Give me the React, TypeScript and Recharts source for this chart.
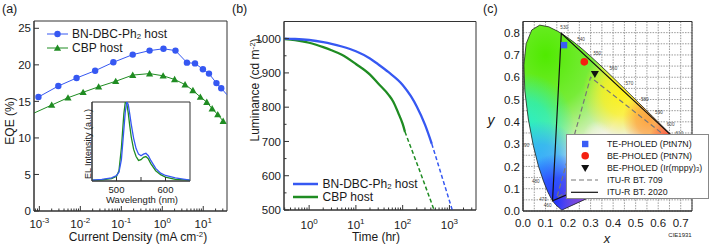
import React from "react";
import { ComposedChart, Line, Scatter, XAxis, YAxis, CartesianGrid, ReferenceArea } from "recharts";

const FONT = "'Liberation Sans', Arial, Helvetica, sans-serif";
const BLUE = "#3658f2";
const GREEN = "#1f8c22";
const AXIS = "#333";

// (a) EQE vs current density (mA cm-2)
const eqeBlueJ = [0.00095, 0.0029, 0.0081, 0.023, 0.064, 0.19, 0.49, 1.07, 2.1, 4.0, 6.3, 9.8, 13.8, 21, 27.5];
const eqeBlue = [15.6, 17.1, 18.2, 19.2, 20.35, 21.4, 21.95, 22.2, 21.95, 20.3, 20.2, 19.4, 18.8, 17.5, 16.8];
const eqeBlueEnd = { x: 38, y: 15.9 };
const eqeGreenJ = [0.002, 0.005, 0.0117, 0.028, 0.073, 0.19, 0.49, 1.05, 2.0, 3.6, 5.6, 8.5, 12.2, 16.5, 22.6, 30.6];
const eqeGreen = [14.5, 15.5, 16.25, 17.0, 17.75, 18.6, 18.8, 18.5, 18.0, 17.3, 16.5, 15.6, 14.9, 14.0, 13.2, 12.3];
const eqeGreenStart = { x: 0.00074, y: 13.4 };
const eqeTicks = [0, 5, 10, 15, 20, 25];

// (a) inset EL spectra
const elWl = [450, 470, 490, 500, 505, 510, 515, 518, 521, 524, 527, 530, 535, 540, 545, 550, 555, 560, 565, 570, 580, 590, 600, 620, 650];
const elGreen = [0.01, 0.015, 0.03, 0.06, 0.13, 0.42, 0.85, 1.0, 0.98, 0.86, 0.7, 0.56, 0.4, 0.31, 0.26, 0.27, 0.3, 0.31, 0.28, 0.22, 0.13, 0.08, 0.05, 0.02, 0.01];
const elBlue = [0.01, 0.02, 0.04, 0.07, 0.11, 0.27, 0.65, 0.88, 1.0, 0.97, 0.85, 0.72, 0.54, 0.41, 0.34, 0.32, 0.34, 0.35, 0.32, 0.26, 0.16, 0.1, 0.07, 0.04, 0.01];
const elTicks = [500, 550, 600];

// (b) luminance decay
const lumBlueT = [0.3, 0.5, 1, 2, 3, 5, 10, 20, 30, 50, 100, 150, 200, 300, 420];
const lumBlue = [1000, 999, 996, 990, 985, 977, 963, 942, 925, 902, 865, 832, 802, 749, 693];
const lumBlueFitT = [420, 690, 1150];
const lumBlueFit = [693, 598, 500];
const lumGreenT = [0.3, 0.5, 1, 2, 3, 5, 10, 20, 30, 50, 63, 80, 100, 112];
const lumGreen = [999, 996, 988, 975, 966, 953, 926, 895, 869, 836, 816, 784, 751, 728];
const lumGreenFitT = [112, 235, 470];
const lumGreenFit = [728, 612, 500];
const lumTicks = [500, 550, 600, 650, 700, 750, 800, 850, 900, 950, 1000, 1050];

// (c) CIE 1931 spectral locus
const locusNm = [380, 400, 420, 430, 440, 450, 455, 460, 465, 470, 475, 480, 485, 490, 495, 500, 505, 510, 515, 520, 525, 530, 535, 540, 545, 550, 555, 560, 565, 570, 575, 580, 585, 590, 595, 600, 605, 610, 620, 630, 640, 650, 660, 680, 700];
const locusX = [0.1741, 0.1733, 0.1714, 0.1689, 0.1644, 0.1566, 0.151, 0.144, 0.1355, 0.1241, 0.1096, 0.0913, 0.0687, 0.0454, 0.0235, 0.0082, 0.0039, 0.0139, 0.0389, 0.0743, 0.1142, 0.1547, 0.1929, 0.2296, 0.2658, 0.3016, 0.3373, 0.3731, 0.4087, 0.4441, 0.4788, 0.5125, 0.5448, 0.5752, 0.6029, 0.627, 0.6482, 0.6658, 0.6915, 0.7079, 0.719, 0.726, 0.73, 0.7334, 0.7347];
const locusY = [0.005, 0.0048, 0.0051, 0.0069, 0.0109, 0.0177, 0.0227, 0.0297, 0.0399, 0.0578, 0.0868, 0.1327, 0.2007, 0.295, 0.4127, 0.5384, 0.6548, 0.7502, 0.812, 0.8338, 0.8262, 0.8059, 0.7816, 0.7543, 0.7243, 0.6923, 0.6589, 0.6245, 0.5896, 0.5547, 0.5202, 0.4866, 0.4544, 0.4242, 0.3965, 0.3725, 0.3514, 0.334, 0.3083, 0.292, 0.2809, 0.274, 0.27, 0.2666, 0.2653];
const locusLabels = [460, 470, 480, 490, 500, 510, 520, 530, 540, 550, 560, 570, 580, 590, 600, 610];
const bt709X = [0.64, 0.3, 0.15, 0.64];
const bt709Y = [0.33, 0.6, 0.06, 0.33];
const bt2020X = [0.708, 0.17, 0.131, 0.708];
const bt2020Y = [0.292, 0.797, 0.046, 0.292];
const teX = [0.182];
const teY = [0.744];
const bePtX = [0.272];
const bePtY = [0.669];
const beIrX = [0.319];
const beIrY = [0.614];
const cieXTicks = [0, 0.05, 0.1, 0.15, 0.2, 0.25, 0.3, 0.35, 0.4, 0.45, 0.5, 0.55, 0.6, 0.65, 0.7, 0.75];
const cieYTicks = [0, 0.05, 0.1, 0.15, 0.2, 0.25, 0.3, 0.35, 0.4, 0.45, 0.5, 0.55, 0.6, 0.65, 0.7, 0.75, 0.8, 0.85];

const pts = (xs: number[], ys: number[]) => xs.map((x, i) => ({ x, y: ys[i] }));

function logTicks(lo: number, hi: number) {
  const out: number[] = [];
  for (let e = -4; e <= 4; e++) {
    for (let m = 1; m < 10; m++) {
      const v = Number((m * Math.pow(10, e)).toPrecision(2));
      if (v >= lo && v <= hi) out.push(v);
    }
  }
  return out;
}

const isDecade = (v: number) => Math.abs(Math.log10(v) - Math.round(Math.log10(v))) < 1e-6;
const pow10 = (v: number) => (
  <>
    <tspan>10</tspan>
    <tspan dy={-5} fontSize={8}>{Math.round(Math.log10(v))}</tspan>
  </>
);

type Side = "bottom" | "top" | "left" | "right";
type TickOpts = {
  side: Side;
  major: (v: number) => boolean;
  label?: (v: number) => React.ReactNode;
  len?: number;
  minorLen?: number;
  off?: number;
  size?: number;
};

// inward ticks, drawn by hand so the frame looks like the original
function makeTick(o: TickOpts) {
  const { side, major, label, len = 5, minorLen = 2.5, off = 16, size = 11.5 } = o;
  return (p: any) => {
    const v = Number(p.payload?.value);
    const big = major(v);
    const l = big ? len : minorLen;
    const x = Number(p.x);
    const y = Number(p.y);
    let c = [x, y, x, y];
    let tx = x;
    let ty = y;
    let anchor: "start" | "middle" | "end" = "middle";
    if (side === "bottom") {
      c = [x, y, x, y - l];
      ty = y + off;
    } else if (side === "top") {
      c = [x, y, x, y + l];
    } else if (side === "left") {
      c = [x, y, x + l, y];
      tx = x - off;
      ty = y + size * 0.36;
      anchor = "end";
    } else {
      c = [x, y, x - l, y];
    }
    return (
      <g>
        {l > 0 && <line x1={c[0]} y1={c[1]} x2={c[2]} y2={c[3]} stroke={AXIS} strokeWidth={1} />}
        {big && label && (
          <text x={tx} y={ty} textAnchor={anchor} fontSize={size} fontFamily={FONT} fill="#1a1a1a">
            {label(v)}
          </text>
        )}
      </g>
    );
  };
}

function Txt(props: { x: number; y: number; size?: number; rotate?: boolean; italic?: boolean; left?: boolean; children: React.ReactNode }) {
  const { x, y, size = 12, rotate, italic, left, children } = props;
  return (
    <div
      style={{
        position: "absolute",
        left: x,
        top: y,
        transform: `translate(${left ? "0" : "-50%"}, -50%)${rotate ? " rotate(-90deg)" : ""}`,
        fontFamily: FONT,
        fontSize: size,
        fontStyle: italic ? "italic" : "normal",
        lineHeight: 1,
        whiteSpace: "nowrap",
        color: "#1a1a1a",
      }}
    >
      {children}
    </div>
  );
}

const sub = (s: string) => <sub style={{ fontSize: "0.65em", verticalAlign: "-0.1em", lineHeight: 0 }}>{s}</sub>;
const sup = (s: string) => <sup style={{ fontSize: "0.65em", verticalAlign: "0.55em", lineHeight: 0 }}>{s}</sup>;

const frame = (x: [number, number], y: [number, number]) => (
  <ReferenceArea xAxisId="b" yAxisId="l" x1={x[0]} x2={x[1]} y1={y[0]} y2={y[1]} fill="none" fillOpacity={0} stroke={AXIS} strokeWidth={1} ifOverflow="visible" />
);

function PanelA() {
  const jTicks = logTicks(7.4e-4, 38);
  const dom: [number, number] = [7.4e-4, 38];
  const blueLine = [...pts(eqeBlueJ, eqeBlue), eqeBlueEnd];
  const greenLine = [eqeGreenStart, ...pts(eqeGreenJ, eqeGreen)];
  return (
    <ComposedChart width={240} height={245} margin={{ top: 21, right: 13, bottom: 0, left: 0 }}>
      <Line xAxisId="b" yAxisId="l" data={greenLine} dataKey="y" stroke={GREEN} strokeWidth={1} dot={false} activeDot={false} isAnimationActive={false} />
      <Line xAxisId="b" yAxisId="l" data={blueLine} dataKey="y" stroke={BLUE} strokeWidth={1} dot={false} activeDot={false} isAnimationActive={false} />
      <Scatter
        xAxisId="b"
        yAxisId="l"
        data={pts(eqeGreenJ, eqeGreen)}
        isAnimationActive={false}
        shape={(p: any) => (
          <polygon points={`${p.cx - 3.6},${p.cy + 2.8} ${p.cx + 3.6},${p.cy + 2.8} ${p.cx},${p.cy - 3.6}`} fill={GREEN} />
        )}
      />
      <Scatter
        xAxisId="b"
        yAxisId="l"
        data={pts(eqeBlueJ, eqeBlue)}
        isAnimationActive={false}
        shape={(p: any) => <circle cx={p.cx} cy={p.cy} r={3.2} fill={BLUE} />}
      />
      {frame(dom, [0, 26])}
      <XAxis xAxisId="b" dataKey="x" type="number" scale="log" domain={dom} allowDataOverflow ticks={jTicks} interval={0} tickSize={0} tickMargin={0} height={34} stroke={AXIS}
        tick={makeTick({ side: "bottom", major: isDecade, label: pow10, off: 17 })} />
      <XAxis xAxisId="t" orientation="top" type="number" scale="log" domain={dom} allowDataOverflow ticks={jTicks} interval={0} tickSize={0} tickMargin={0} height={0} stroke={AXIS}
        tick={makeTick({ side: "top", major: isDecade })} />
      <YAxis yAxisId="l" dataKey="y" type="number" domain={[0, 26]} allowDataOverflow ticks={eqeTicks} interval={0} tickSize={0} tickMargin={0} width={34} stroke={AXIS}
        tick={makeTick({ side: "left", major: () => true, label: (v) => String(v), off: 3 })} />
      <YAxis yAxisId="r" orientation="right" type="number" domain={[0, 26]} allowDataOverflow ticks={eqeTicks} interval={0} tickSize={0} tickMargin={0} width={0} stroke={AXIS}
        tick={makeTick({ side: "right", major: () => true })} />
    </ComposedChart>
  );
}

function Inset() {
  return (
    <ComposedChart width={125} height={115} margin={{ top: 7, right: 5, bottom: 0, left: 0 }}>
      <Line xAxisId="b" yAxisId="l" data={pts(elWl, elGreen)} dataKey="y" stroke={GREEN} strokeWidth={1.3} dot={false} activeDot={false} isAnimationActive={false} />
      <Line xAxisId="b" yAxisId="l" data={pts(elWl, elBlue)} dataKey="y" stroke={BLUE} strokeWidth={1.3} dot={false} activeDot={false} isAnimationActive={false} />
      {frame([450, 650], [0, 1])}
      <XAxis xAxisId="b" dataKey="x" type="number" domain={[450, 650]} allowDataOverflow ticks={elTicks} interval={0} tickSize={0} tickMargin={0} height={29} stroke={AXIS}
        tick={makeTick({ side: "bottom", major: (v) => v % 100 === 0, label: (v) => String(v), len: 4, minorLen: 4, off: 11.5, size: 9.5 })} />
      <XAxis xAxisId="t" orientation="top" type="number" domain={[450, 650]} allowDataOverflow ticks={elTicks} interval={0} tickSize={0} tickMargin={0} height={0} stroke={AXIS}
        tick={makeTick({ side: "top", major: () => true, len: 3 })} />
      <YAxis yAxisId="l" dataKey="y" type="number" domain={[0, 1]} allowDataOverflow ticks={[]} tickSize={0} width={22} stroke={AXIS} tick={false} />
      <YAxis yAxisId="r" orientation="right" type="number" domain={[0, 1]} allowDataOverflow ticks={[]} tickSize={0} width={0} stroke={AXIS} tick={false} />
    </ComposedChart>
  );
}

function PanelB() {
  const tTicks = logTicks(0.29, 3700);
  const dom: [number, number] = [0.29, 3700];
  const major100 = (v: number) => v % 100 === 0;
  return (
    <ComposedChart width={245} height={245} margin={{ top: 21.5, right: 9, bottom: 0, left: 0 }}>
      <Line xAxisId="b" yAxisId="l" data={pts(lumGreenFitT, lumGreenFit)} dataKey="y" stroke={GREEN} strokeWidth={1.5} strokeDasharray="4 2.5" dot={false} activeDot={false} isAnimationActive={false} />
      <Line xAxisId="b" yAxisId="l" data={pts(lumBlueFitT, lumBlueFit)} dataKey="y" stroke={BLUE} strokeWidth={1.5} strokeDasharray="4 2.5" dot={false} activeDot={false} isAnimationActive={false} />
      <Line xAxisId="b" yAxisId="l" data={pts(lumGreenT, lumGreen)} dataKey="y" type="monotone" stroke={GREEN} strokeWidth={2.3} dot={false} activeDot={false} isAnimationActive={false} />
      <Line xAxisId="b" yAxisId="l" data={pts(lumBlueT, lumBlue)} dataKey="y" type="monotone" stroke={BLUE} strokeWidth={2.3} dot={false} activeDot={false} isAnimationActive={false} />
      {frame(dom, [500, 1050])}
      <XAxis xAxisId="b" dataKey="x" type="number" scale="log" domain={dom} allowDataOverflow ticks={tTicks} interval={0} tickSize={0} tickMargin={0} height={35} stroke={AXIS}
        tick={makeTick({ side: "bottom", major: isDecade, label: pow10, off: 18.5 })} />
      <XAxis xAxisId="t" orientation="top" type="number" scale="log" domain={dom} allowDataOverflow ticks={tTicks} interval={0} tickSize={0} tickMargin={0} height={0} stroke={AXIS}
        tick={makeTick({ side: "top", major: isDecade })} />
      <YAxis yAxisId="l" dataKey="y" type="number" domain={[500, 1050]} allowDataOverflow ticks={lumTicks} interval={0} tickSize={0} tickMargin={0} width={44} stroke={AXIS}
        tick={makeTick({ side: "left", major: major100, label: (v) => (v <= 1000 ? String(v) : ""), off: 3 })} />
      <YAxis yAxisId="r" orientation="right" type="number" domain={[500, 1050]} allowDataOverflow ticks={lumTicks} interval={0} tickSize={0} tickMargin={0} width={0} stroke={AXIS}
        tick={makeTick({ side: "right", major: major100, minorLen: 0 })} />
    </ComposedChart>
  );
}

const lxMin = Math.min(...locusX);
const lxMax = Math.max(...locusX);
const lyMin = Math.min(...locusY);
const lyMax = Math.max(...locusY);

// colour wash for the horseshoe, as soft radial glows in chromaticity coordinates
const glows = [
  { id: "gGreen", x: 0.1, y: 0.7, r: 0.56, c: "#50ea00", a: 1 },
  { id: "gYellow", x: 0.44, y: 0.53, r: 0.24, c: "#fff012", a: 0.95 },
  { id: "gOrange", x: 0.56, y: 0.41, r: 0.16, c: "#ff9a30", a: 0.9 },
  { id: "gRed", x: 0.7, y: 0.29, r: 0.2, c: "#ff2a10", a: 1 },
  { id: "gCyan", x: 0.01, y: 0.37, r: 0.3, c: "#20eec8", a: 0.95 },
  { id: "gLBlue", x: 0.08, y: 0.19, r: 0.26, c: "#30a4ff", a: 0.95 },
  { id: "gBlue", x: 0.15, y: 0.04, r: 0.26, c: "#2234ff", a: 1 },
  { id: "gPurple", x: 0.32, y: 0.06, r: 0.24, c: "#8a3cd0", a: 0.9 },
  { id: "gWhite", x: 0.33, y: 0.33, r: 0.09, c: "#fff8f0", a: 0.5 },
];

function Horseshoe(props: any) {
  const p: { x: number; y: number }[] = props.points || [];
  if (!p.length) return <g />;
  const d = p.map((q, i) => `${i ? "L" : "M"}${q.x.toFixed(2)},${q.y.toFixed(2)}`).join("") + "Z";
  return (
    <g>
      <defs>
        {glows.map((g) => (
          <radialGradient key={g.id} id={g.id} cx={(g.x - lxMin) / (lxMax - lxMin)} cy={(lyMax - g.y) / (lyMax - lyMin)} r={g.r}>
            <stop offset="0" stopColor={g.c} stopOpacity={g.a} />
            <stop offset="0.5" stopColor={g.c} stopOpacity={g.a * 0.75} />
            <stop offset="1" stopColor={g.c} stopOpacity={0} />
          </radialGradient>
        ))}
      </defs>
      <path d={d} fill="#eef2e0" />
      {glows.map((g) => (
        <path key={g.id} d={d} fill={`url(#${g.id})`} />
      ))}
      <path d={d} fill="none" stroke="#222" strokeWidth={0.8} />
    </g>
  );
}

function WlLabel(p: any) {
  const nm = p.payload?.nm;
  if (!locusLabels.includes(nm)) return <g />;
  let dx = 2.5;
  let dy = -2;
  let anchor: "start" | "middle" | "end" = "start";
  if (nm <= 510) {
    dx = -4;
    dy = nm <= 470 ? 3 : 1.5;
    anchor = "end";
  } else if (nm === 520) {
    dx = 0;
    dy = -3;
    anchor = "middle";
  }
  return (
    <text x={p.cx + dx} y={p.cy + dy} fontSize={4.6} fontFamily={FONT} fill="#444" textAnchor={anchor}>
      {nm}
    </text>
  );
}

const none = () => <g />;
const isTenth = (v: number) => Math.abs(v * 10 - Math.round(v * 10)) < 1e-6;

function PanelC() {
  const locus = locusNm.map((nm, i) => ({ nm, x: locusX[i], y: locusY[i] }));
  return (
    <ComposedChart width={228} height={245} margin={{ top: 21.5, right: 21, bottom: 0, left: 0 }}>
      <CartesianGrid xAxisId="b" yAxisId="l" stroke="#9a9a9a" strokeDasharray="1.5 1.2" />
      <Scatter xAxisId="b" yAxisId="l" data={locus} line={Horseshoe} shape={WlLabel} isAnimationActive={false} />
      <Scatter xAxisId="b" yAxisId="l" data={pts(bt2020X, bt2020Y)} line={{ stroke: "#111", strokeWidth: 1.2 }} shape={none} isAnimationActive={false} />
      <Scatter xAxisId="b" yAxisId="l" data={pts(bt709X, bt709Y)} line={{ stroke: "#777", strokeWidth: 1.2, strokeDasharray: "5 3" }} shape={none} isAnimationActive={false} />
      <Scatter xAxisId="b" yAxisId="l" data={pts(teX, teY)} isAnimationActive={false}
        shape={(p: any) => <rect x={p.cx - 3.2} y={p.cy - 3.2} width={6.4} height={6.4} fill="#3a5cf5" />} />
      <Scatter xAxisId="b" yAxisId="l" data={pts(bePtX, bePtY)} isAnimationActive={false}
        shape={(p: any) => <circle cx={p.cx} cy={p.cy} r={3.8} fill="#f42010" />} />
      <Scatter xAxisId="b" yAxisId="l" data={pts(beIrX, beIrY)} isAnimationActive={false}
        shape={(p: any) => <polygon points={`${p.cx - 4},${p.cy - 3} ${p.cx + 4},${p.cy - 3} ${p.cx},${p.cy + 4}`} fill="#111" />} />
      {frame([0, 0.75], [0, 0.85])}
      <XAxis xAxisId="b" dataKey="x" type="number" domain={[0, 0.75]} allowDataOverflow ticks={cieXTicks} interval={0} tickSize={0} tickMargin={0} height={34} stroke={AXIS}
        tick={makeTick({ side: "bottom", major: isTenth, label: (v) => v.toFixed(1), len: 0, minorLen: 0, off: 15.5 })} />
      <XAxis xAxisId="t" orientation="top" type="number" domain={[0, 0.75]} allowDataOverflow ticks={[]} tickSize={0} height={0} stroke={AXIS} tick={false} />
      <YAxis yAxisId="l" dataKey="y" type="number" domain={[0, 0.85]} allowDataOverflow ticks={cieYTicks} interval={0} tickSize={0} tickMargin={0} width={38} stroke={AXIS}
        tick={makeTick({ side: "left", major: isTenth, label: (v) => v.toFixed(1), len: 0, minorLen: 0, off: 3 })} />
      <YAxis yAxisId="r" orientation="right" type="number" domain={[0, 0.85]} allowDataOverflow ticks={[]} tickSize={0} width={0} stroke={AXIS} tick={false} />
    </ComposedChart>
  );
}

function LegendC() {
  const rows = [10, 21.7, 34, 46, 58.3];
  const labels: React.ReactNode[] = [
    "TE-PHOLED (PtN7N)",
    "BE-PHOLED (PtN7N)",
    <>BE-PHOLED (Ir(mppy){sub("3")})</>,
    "ITU-R BT. 709",
    "ITU-R BT. 2020",
  ];
  return (
    <div style={{ position: "absolute", left: 566, top: 134, width: 143, height: 65, background: "#fff", border: "1px solid #888", boxSizing: "border-box" }}>
      <svg width={143} height={65} style={{ position: "absolute", left: -1, top: -1 }}>
        <rect x={16} y={rows[0] - 3.2} width={6.4} height={6.4} fill="#3a5cf5" />
        <circle cx={19.2} cy={rows[1]} r={3.8} fill="#f42010" />
        <polygon points={`${15.2},${rows[2] - 3} ${23.2},${rows[2] - 3} ${19.2},${rows[2] + 4}`} fill="#111" />
        <line x1={5} x2={32} y1={rows[3]} y2={rows[3]} stroke="#777" strokeWidth={1.2} strokeDasharray="5 3" />
        <line x1={5} x2={32} y1={rows[4]} y2={rows[4]} stroke="#111" strokeWidth={1.2} />
      </svg>
      {rows.map((r, i) => (
        <div key={i} style={{ position: "absolute", left: 40, top: r - 1, transform: "translateY(-50%)", fontFamily: FONT, fontSize: 8.8, lineHeight: 1, whiteSpace: "nowrap", color: "#1a1a1a" }}>
          {labels[i]}
        </div>
      ))}
    </div>
  );
}

function LegendLine({ x1, x2, y, color, w, marker }: { x1: number; x2: number; y: number; color: string; w: number; marker?: "circle" | "tri" }) {
  const cx = (x1 + x2) / 2;
  return (
    <svg width={x2 - x1 + 8} height={12} style={{ position: "absolute", left: x1 - 4, top: y - 6 }}>
      <line x1={4} x2={x2 - x1 + 4} y1={6} y2={6} stroke={color} strokeWidth={w} />
      {marker === "circle" && <circle cx={cx - x1 + 4} cy={6} r={3.2} fill={color} />}
      {marker === "tri" && <polygon points={`${cx - x1 + 0.4},${8.8} ${cx - x1 + 7.6},${8.8} ${cx - x1 + 4},${2.4}`} fill={color} />}
    </svg>
  );
}

export default function App() {
  return (
    <div style={{ position: "absolute", left: 0, top: 0, width: 713, height: 245, background: "#fff", overflow: "hidden" }}>
      <div style={{ position: "absolute", left: 0, top: 0 }}>
        <PanelA />
      </div>
      <div style={{ position: "absolute", left: 92, top: 102, width: 98, height: 79, background: "#fff" }} />
      <div style={{ position: "absolute", left: 70, top: 95 }}>
        <Inset />
      </div>
      <div style={{ position: "absolute", left: 240, top: 0 }}>
        <PanelB />
      </div>
      <div style={{ position: "absolute", left: 485, top: 0 }}>
        <PanelC />
      </div>
      <LegendC />

      <Txt x={2} y={9} size={12.5} left>(a)</Txt>
      <Txt x={232} y={9} size={12.5} left>(b)</Txt>
      <Txt x={483} y={9} size={12.5} left>(c)</Txt>

      <LegendLine x1={47} x2={68} y={34.3} color={BLUE} w={1} marker="circle" />
      <Txt x={72} y={34} left>BN-DBC-Ph{sub("2")} host</Txt>
      <LegendLine x1={47} x2={68} y={47.7} color={GREEN} w={1} marker="tri" />
      <Txt x={72} y={47.9} left>CBP host</Txt>

      <Txt x={10} y={121} rotate>EQE (%)</Txt>
      <Txt x={138} y={237}>Current Density (mA cm{sup("-2")})</Txt>
      <Txt x={87.5} y={144} size={9} rotate>EL Intensity (a.u.)</Txt>
      <Txt x={142} y={200} size={9.5}>Wavelength (nm)</Txt>

      <LegendLine x1={293} x2={318} y={184.3} color={BLUE} w={2.5} />
      <Txt x={322.5} y={183.8} left>BN-DBC-Ph{sub("2")} host</Txt>
      <LegendLine x1={293} x2={318} y={196.7} color={GREEN} w={2.5} />
      <Txt x={322.5} y={197.2} left>CBP host</Txt>
      <Txt x={255} y={90} rotate>Luminance (cd m{sup("-2")})</Txt>
      <Txt x={376} y={236.5}>Time (hr)</Txt>

      <Txt x={491} y={120} size={14} italic>y</Txt>
      <Txt x={607} y={237.5} size={13} italic>x</Txt>
      <Txt x={680} y={235} size={6}>CIE1931</Txt>
    </div>
  );
}
